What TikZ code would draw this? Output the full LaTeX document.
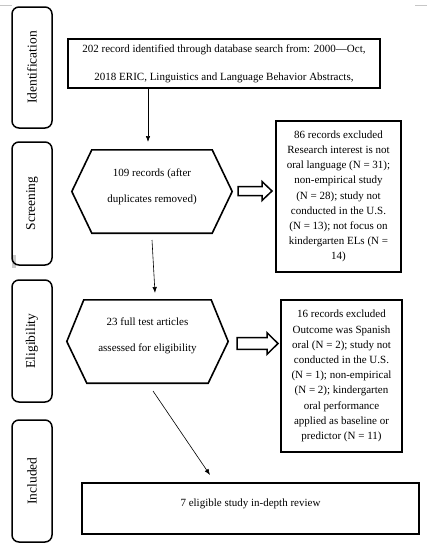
\documentclass[tikz,border=0pt]{standalone}
\usepackage{fontspec}
\setmainfont{Liberation Serif}
\usetikzlibrary{calc,arrows.meta}
\begin{document}
\begin{tikzpicture}[x=1pt,y=-1pt,
  phase/.style={draw, line width=1.5pt, rounded corners=7pt, minimum height=40pt, inner sep=0pt, rotate=90, font=\fontsize{13.5}{16}\selectfont},
  box/.style={draw, line width=1.6pt, inner sep=0pt, align=center, font=\fontsize{11}{15.2}\selectfont},
  hexframe/.style={inner sep=0pt},
  hexline/.style={draw, line width=1.6pt, line join=miter},
  txt/.style={inner sep=0pt, align=center, font=\fontsize{11}{26}\selectfont},
  blockarrow/.style={draw, line width=1.5pt, fill=white, line join=miter},
  conn/.style={-{Latex[length=6pt,width=4.5pt]}, line width=0.6pt},
  artifact/.style={draw=gray!45, line width=0.8pt}
]
\useasboundingbox (0,0) rectangle (427,550);
\fill[white] (0,0) rectangle (427,550);

% artifacts
\draw[artifact] (0,5) -- (12,5);
\draw[artifact] (415,5) -- (427,5);
\fill[gray!40] (12,255) rectangle (16,268);

% phase labels
\node[phase, minimum width=121pt] (ident) at (32,67.5) {Identification};
\node[phase, minimum width=123pt] (screen) at (32,203.5) {Screening};
\node[phase, minimum width=122pt] (elig) at (32,341) {Eligibility};
\node[phase, minimum width=122pt] (incl) at (32,481) {Included};

% top box
\node[box, minimum width=312pt, minimum height=49pt, font=\fontsize{11}{28}\selectfont] (top) at (224,63.5)
  {202 record identified through database search from: 2000---Oct,\\2018 ERIC, Linguistics and Language Behavior Abstracts,};

% hexagon 1
\node[hexframe, minimum width=160pt, minimum height=83pt] (h1) at (152,191.5) {};
\draw[hexline] (h1.west) -- ([xshift=20pt]h1.north west) -- ([xshift=-20pt]h1.north east) -- (h1.east)
  -- ([xshift=-20pt]h1.south east) -- ([xshift=20pt]h1.south west) -- cycle;
\node[txt] (h1t) at ([yshift=5pt]h1.center) {109 records (after\\duplicates removed)};

% hexagon 2
\node[hexframe, minimum width=161pt, minimum height=83pt] (h2) at (147.5,341.5) {};
\draw[hexline] (h2.west) -- ([xshift=17pt]h2.north west) -- ([xshift=-17pt]h2.north east) -- (h2.east)
  -- ([xshift=-20pt]h2.south east) -- ([xshift=20pt]h2.south west) -- cycle;
\node[txt] (h2t) at ([yshift=6pt]h2.center) {23 full test articles\\assessed for eligibility};

% exclusion boxes
\node[box, minimum width=125pt, minimum height=151pt] (ex1) at (338.5,196.5)
  {86 records excluded\\Research interest is not\\oral language (N = 31);\\non-empirical study\\(N = 28); study not\\conducted in the U.S.\\(N = 13); not focus on\\kindergarten ELs (N =\\14)};
\node[box, minimum width=121pt, minimum height=152pt] (ex2) at (341.5,376)
  {16 records excluded\\Outcome was Spanish\\oral (N = 2); study not\\conducted in the U.S.\\(N = 1); non-empirical\\(N = 2); kindergarten\\oral performance\\applied as baseline or\\predictor (N = 11)};

% final box
\node[box, minimum width=337pt, minimum height=51pt] (fin) at (250.5,508.5) {};
\node[txt] (fint) at ([yshift=5pt]fin.center) {7 eligible study in-depth review};

% block arrows
\coordinate (ba1) at (238,191);
\draw[blockarrow] (ba1) ++(0,-4.5) -- ++(24,0) -- ++(0,-5) -- ++(10,9.5) -- ++(-10,9.5) -- ++(0,-5) -- ++(-24,0) -- cycle;
\coordinate (ba2) at (237,343.5);
\draw[blockarrow] (ba2) ++(0,-5.8) -- ++(30,0) -- ++(0,-5) -- ++(11,10.8) -- ++(-11,10.8) -- ++(0,-5) -- ++(-30,0) -- cycle;

% thin arrows
\coordinate (a1e) at (148,142);
\draw[conn] (top.south -| a1e) -- (a1e);
\coordinate (a2s) at (152,240);
\coordinate (a2e) at (155,293);
\draw[conn] (a2s) -- (a2e);
\coordinate (a3s) at (153,391);
\coordinate (a3e) at (210,475);
\draw[conn] (a3s) -- (a3e);
\end{tikzpicture}
\end{document}
